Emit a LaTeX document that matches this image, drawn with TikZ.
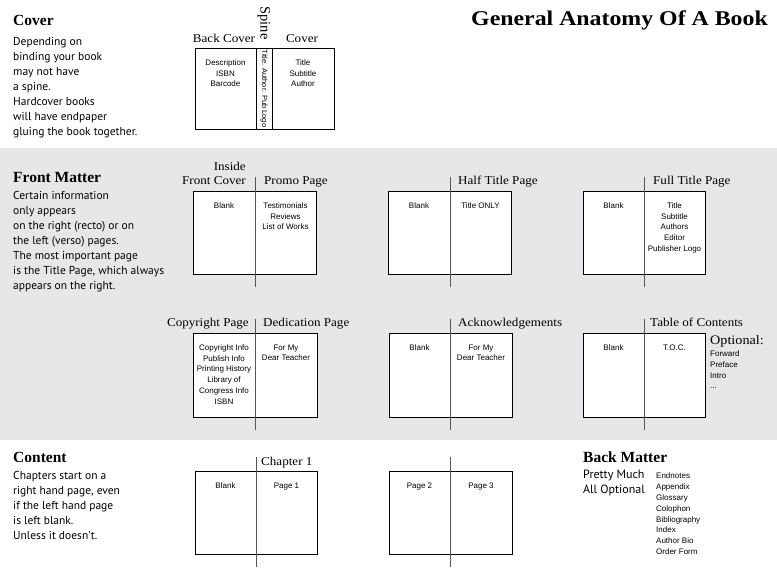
\documentclass[tikz,border=0pt]{standalone}
\usepackage{fontspec}
\usepackage{graphicx}
\setmainfont{Liberation Serif}
\newfontfamily\bodyfont{PT Sans}
\newfontfamily\boxfont{Liberation Sans}
\usetikzlibrary{fit}
\definecolor{bandgray}{HTML}{E6E7E8}
\definecolor{spinegray}{HTML}{555555}
\tikzset{
  pagebox/.style={draw=black, line width=0.9pt, fill=white, inner sep=0pt},
  spineline/.style={draw=spinegray, line width=1.1pt},
  pagetext/.style={anchor=north, align=center, inner sep=0pt, font=\boxfont\fontsize{8}{10.7}\selectfont},
  listtext/.style={anchor=north west, align=left, inner sep=0pt, font=\boxfont\fontsize{8}{10.8}\selectfont},
  label/.style={inner sep=0pt, xscale=1.09, transform shape, font=\fontsize{12}{14}\selectfont},
  heading/.style={anchor=base west, inner sep=0pt, font=\bfseries\fontsize{15.5}{18}\selectfont},
  bodytext/.style={anchor=north west, align=left, inner sep=0pt, font=\bodyfont\fontsize{11.5}{15}\selectfont},
}
\newcommand\spreadbook[6]{%
  \node[pagebox, fit={(#2,#5) (#3,#6)}] (#1l) {};
  \node[pagebox, fit={(#3,#5) (#4,#6)}] (#1r) {};
  \draw[spineline] ([yshift=14pt]#1l.north east) -- ([yshift=-13pt]#1l.south east);
}
\begin{document}
\begin{tikzpicture}[x=1pt, y=-1pt]
\useasboundingbox (0,0) rectangle (777,585);
\fill[white] (0,0) rectangle (777,585);
\fill[bandgray] (0,148) rectangle (777,440);

% Title
\node[anchor=base east, inner sep=0pt, font=\bfseries\fontsize{21}{24}\selectfont] (title) at (768,26) {\scalebox{1.135}[1]{General Anatomy Of A Book}};

% ---------- Cover section ----------
\node[heading] (covhead) at (13,26) {Cover};
\node[bodytext] (covbody) at (13,37) {Depending on\\binding your book\\may not have\\a spine.\\Hardcover books\\will have endpaper\\gluing the book together.};

\node[pagebox, fit={(195,48) (256,129)}] (cback) {};
\node[pagebox, fit={(256,48) (272,129)}] (cspine) {};
\node[pagebox, fit={(272,48) (334,129)}] (cfront) {};
\node[label, anchor=base] (lback) at (224,43) {Back Cover};
\node[label, anchor=base] (lcover) at (302,43) {Cover};
\node[inner sep=0pt, rotate=-90, font=\fontsize{14.5}{16}\selectfont] (lspine) at (264,23) {Spine};
\node[inner sep=0pt, rotate=-90, font=\boxfont\fontsize{7.5}{9}\selectfont] (spinetxt) at (cspine.center) {Title. Author. Pub Logo};
\node[pagetext] (cbacktxt) at ([yshift=-12pt]cback.north) {Description\\ISBN\\Barcode};
\node[pagetext] (cfronttxt) at ([yshift=-12pt]cfront.north) {Title\\Subtitle\\Author};

% ---------- Front Matter ----------
\node[heading] (fmhead) at (13,183) {Front Matter};
\node[bodytext] (fmbody) at (13,191.5) {Certain information\\only appears\\on the right (recto) or on\\the left (verso) pages.\\The most important page\\is the Title Page, which always\\appears on the right.};

% Row 1
\spreadbook{ifc}{193}{255}{316}{191}{274}
\node[label, anchor=base east] (lifc1) at (246,171) {Inside};
\node[label, anchor=base east] (lifc2) at (246,185) {Front Cover};
\node[label, anchor=base west] (lpromo) at (264,185) {Promo Page};
\node[pagetext] (ifclt) at ([yshift=-12pt]ifcl.north) {Blank};
\node[pagetext] (ifcrt) at ([yshift=-12pt]ifcr.north) {Testimonials\\Reviews\\List of Works};

\spreadbook{half}{388}{450}{511}{191}{274}
\node[label, anchor=base west] (lhalf) at (458,185) {Half Title Page};
\node[pagetext] (halflt) at ([yshift=-12pt]halfl.north) {Blank};
\node[pagetext] (halfrt) at ([yshift=-12pt]halfr.north) {Title ONLY};

\spreadbook{full}{583}{644}{705}{191}{274}
\node[label, anchor=base west] (lfull) at (653,185) {Full Title Page};
\node[pagetext] (fulllt) at ([yshift=-12pt]fulll.north) {Blank};
\node[pagetext] (fullrt) at ([yshift=-12pt]fullr.north) {Title\\Subtitle\\Authors\\Editor\\Publisher Logo};

% Row 2
\spreadbook{copy}{193}{255}{317}{333}{417}
\node[label, anchor=base east] (lcopy) at (249,327) {Copyright Page};
\node[label, anchor=base west] (lded) at (263,327) {Dedication Page};
\node[pagetext] (copylt) at ([yshift=-12pt]copyl.north) {Copyright Info\\Publish Info\\Printing History\\Library of\\Congress Info\\ISBN};
\node[pagetext] (copyrt) at ([yshift=-12pt]copyr.north) {For My\\Dear Teacher};

\spreadbook{ack}{389}{450}{512}{333}{417}
\node[label, anchor=base west] (lack) at (458,327) {Acknowledgements};
\node[pagetext] (acklt) at ([yshift=-12pt]ackl.north) {Blank};
\node[pagetext] (ackrt) at ([yshift=-12pt]ackr.north) {For My\\Dear Teacher};

\spreadbook{toc}{583}{644}{705}{333}{417}
\node[label, anchor=base west] (ltoc) at (650,327) {Table of Contents};
\node[pagetext] (toclt) at ([yshift=-12pt]tocl.north) {Blank};
\node[pagetext] (tocrt) at ([yshift=-12pt]tocr.north) {T.O.C.};
\node[label, anchor=base west, font=\fontsize{13}{15}\selectfont] (lopt) at (710,345) {Optional:};
\node[listtext] (optlist) at (710,350.5) {Forward\\Preface\\Intro\\...};

% ---------- Content ----------
\node[heading] (conthead) at (13,462) {Content};
\node[bodytext] (contbody) at (13,471) {Chapters start on a\\right hand page, even\\if the left hand page\\is left blank.\\Unless it doesn't.};

\spreadbook{ch}{195}{256}{317}{471}{554}
\node[label, anchor=base west] (lch) at (261,465) {Chapter 1};
\node[pagetext] (chlt) at ([yshift=-12pt]chl.north) {Blank};
\node[pagetext] (chrt) at ([yshift=-12pt]chr.north) {Page 1};

\spreadbook{pg}{389}{450}{512}{471}{554}
\node[pagetext] (pglt) at ([yshift=-12pt]pgl.north) {Page 2};
\node[pagetext] (pgrt) at ([yshift=-12pt]pgr.north) {Page 3};

% ---------- Back Matter ----------
\node[heading] (bmhead) at (583,462) {Back Matter};
\node[bodytext, font=\bodyfont\fontsize{12}{15}\selectfont] (bmbody) at (583,470) {Pretty Much\\All Optional};
\node[listtext] (bmlist) at (656,473) {Endnotes\\Appendix\\Glossary\\Colophon\\Bibliography\\Index\\Author Bio\\Order Form};
\end{tikzpicture}
\end{document}
